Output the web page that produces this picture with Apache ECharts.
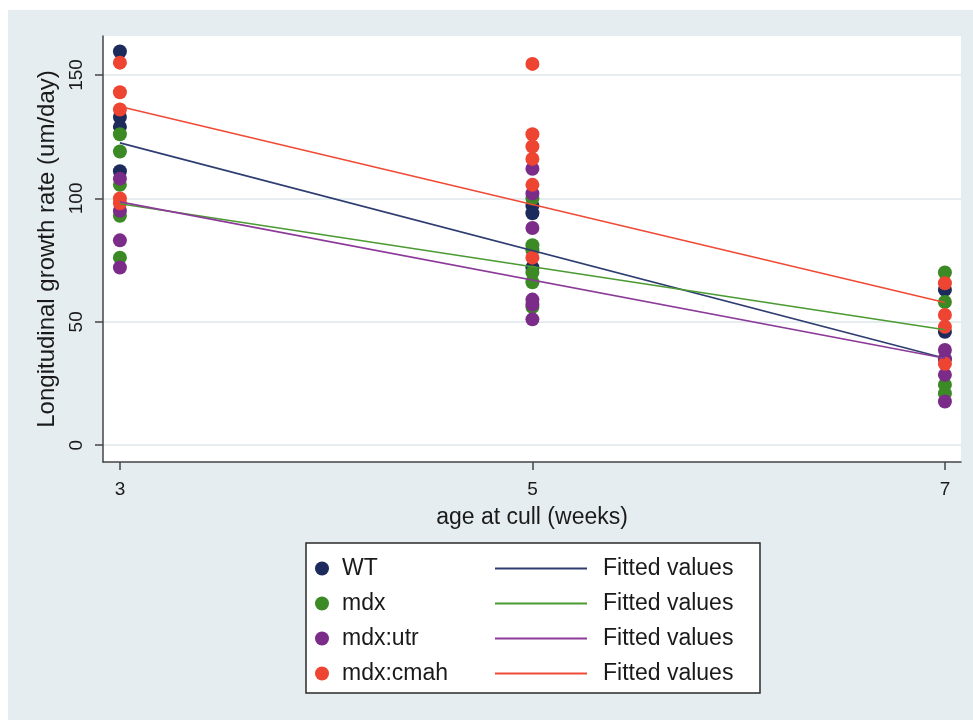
<!DOCTYPE html>
<html>
<head>
<meta charset="utf-8">
<script src="https://cdn.jsdelivr.net/npm/echarts@6/dist/echarts.min.js"></script>
<style>html,body{margin:0;padding:0;background:#fff}#c{width:973px;height:721px}</style>
</head>
<body>
<div id="c"></div>
<script>
// ---- data ----
var groups = ['WT', 'mdx', 'mdx:utr', 'mdx:cmah'];
var ages = [3, 5, 7];
var wt3 = [159.5, 133, 129, 111];
var wt5 = [97, 94, 72];
var wt7 = [63, 46, 35];
var mdx3 = [126, 119, 105.5, 93, 76];
var mdx5 = [100, 81, 79, 70, 66, 56];
var mdx7 = [70, 58, 24.5, 21];
var utr3 = [108, 95, 83, 72];
var utr5 = [112, 102, 88, 59, 57, 51];
var utr7 = [38.6, 35, 28.5, 17.7];
var cmah3 = [155, 143, 136, 100, 98];
var cmah5 = [154.5, 126, 121, 116, 105.5, 76];
var cmah7 = [65.6, 52.8, 48, 33];
// fitted values at age 3 and age 7
var fitAges = [3, 7];
var fitWT = [122.5, 35.2];
var fitMdx = [97.8, 46.8];
var fitUtr = [98.6, 35.2];
var fitCmah = [137.2, 57.8];
var xTicks = [3, 5, 7];
var yTicks = [0, 50, 100, 150];
var fitLabel = 'Fitted values';

var markerColors = ['#1c2a5c', '#3b8a26', '#7b2b88', '#ee4432'];
var lineColors = ['#2e3d70', '#4b9a32', '#8b3a98', '#f04a36'];

function pts(cols) {
  var out = [];
  cols.forEach(function (vals, i) {
    vals.forEach(function (v) { out.push([ages[i], v]); });
  });
  return out;
}
function fit(vals) {
  return vals.map(function (v, i) { return [fitAges[i], v]; });
}
var scatterData = [
  pts([wt3, wt5, wt7]),
  pts([mdx3, mdx5, mdx7]),
  pts([utr3, utr5, utr7]),
  pts([cmah3, cmah5, cmah7])
];
var fitData = [fit(fitWT), fit(fitMdx), fit(fitUtr), fit(fitCmah)];
var fitNames = ['fitWT', 'fitMdx', 'fitUtr', 'fitCmah'];

var series = [];
groups.forEach(function (g, i) {
  series.push({
    name: g, type: 'scatter', data: scatterData[i], symbol: 'circle', symbolSize: 14,
    color: markerColors[i], itemStyle: { color: markerColors[i], opacity: 1 }, z: 2
  });
});
fitNames.forEach(function (n, i) {
  series.push({
    name: n, type: 'line', data: fitData[i], showSymbol: false, symbol: 'none',
    color: lineColors[i], lineStyle: { color: lineColors[i], width: 1.6 }, z: 3, silent: true
  });
});

var font = 'Liberation Sans, Arial, Helvetica, sans-serif';
var chart = echarts.init(document.getElementById('c'), null, { renderer: 'canvas' });
chart.setOption({
  animation: false,
  backgroundColor: '#ffffff',
  textStyle: { fontFamily: font },
  graphic: [
    { type: 'rect', z: -30, shape: { x: 8, y: 10, width: 965, height: 710 }, style: { fill: '#e6edf0' } },
    { type: 'rect', z: -10, shape: { x: 306, y: 543, width: 454, height: 150 },
      style: { fill: '#ffffff', stroke: '#2a2a2a', lineWidth: 1.5 } }
  ],
  grid: { left: 103, top: 36, width: 858, height: 426, show: true, backgroundColor: '#ffffff', borderWidth: 0 },
  xAxis: {
    type: 'value', min: 2.918, max: 7.078,
    name: 'age at cull (weeks)', nameLocation: 'middle', nameGap: 44,
    nameTextStyle: { fontSize: 23, color: '#1a1a1a', fontFamily: font },
    axisLine: { show: true, onZero: false, lineStyle: { color: '#444', width: 1.5 } },
    axisTick: { show: true, length: 8, lineStyle: { color: '#444', width: 1.5 }, customValues: xTicks },
    axisLabel: { fontSize: 19, color: '#1a1a1a', margin: 18, customValues: xTicks, fontFamily: font },
    splitLine: { show: false }
  },
  yAxis: {
    type: 'value', min: -6.8, max: 165.8,
    name: 'Longitudinal growth rate (um/day)', nameLocation: 'middle', nameGap: 33, nameRotate: 90,
    nameTextStyle: { fontSize: 24, color: '#1a1a1a', fontFamily: font },
    axisLine: { show: true, onZero: false, lineStyle: { color: '#444', width: 1.5 } },
    axisTick: { show: true, length: 8, lineStyle: { color: '#444', width: 1.5 }, customValues: yTicks },
    axisLabel: { fontSize: 19, color: '#1a1a1a', margin: 17, rotate: 90, customValues: yTicks, fontFamily: font },
    splitLine: { show: true, lineStyle: { color: '#e6edf0', width: 2 } }
  },
  legend: [
    {
      data: groups, orient: 'vertical', left: 315, top: 557, padding: 0,
      itemWidth: 30, itemHeight: 14, itemGap: 12, icon: 'circle',
      textStyle: { fontSize: 23, lineHeight: 23, color: '#1a1a1a', fontFamily: font },
      selectedMode: false
    },
    {
      data: fitNames, orient: 'vertical', left: 495, top: 557, padding: 0,
      itemWidth: 92, itemHeight: 2, itemGap: 12, icon: 'rect',
      formatter: function () { return fitLabel; },
      textStyle: { fontSize: 23, lineHeight: 23, color: '#1a1a1a', fontFamily: font, padding: [0, 0, 0, 11] },
      selectedMode: false
    }
  ],
  series: series
});
</script>
</body>
</html>
